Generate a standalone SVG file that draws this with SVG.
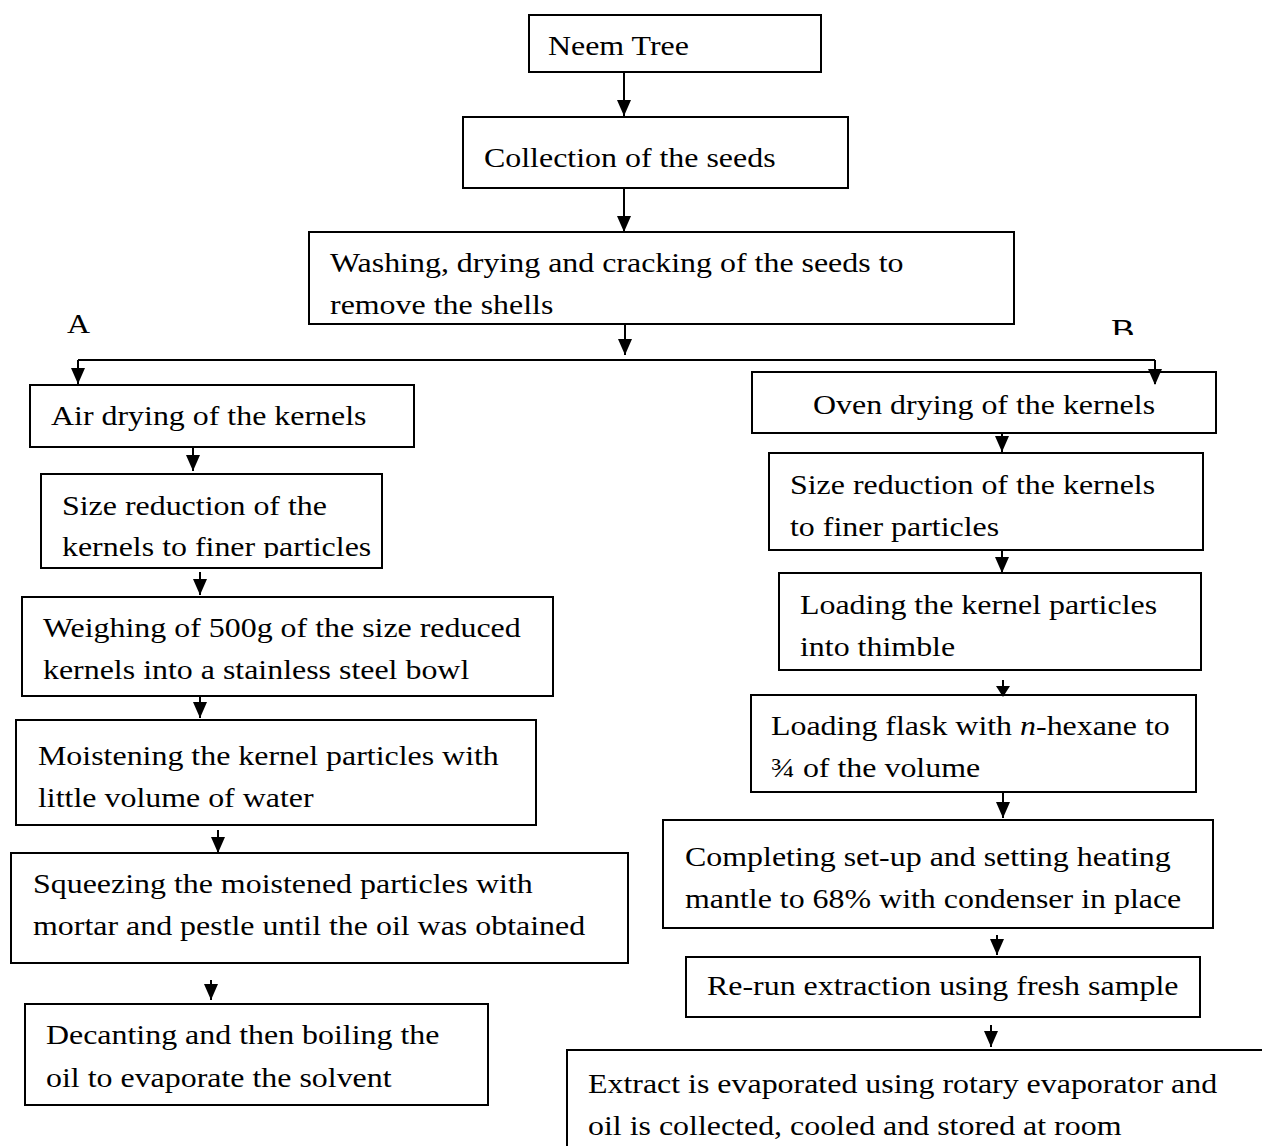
<svg xmlns="http://www.w3.org/2000/svg" width="1262" height="1146" viewBox="0 0 1262 1146">
<style>
.box{fill:#fff;stroke:#000;stroke-width:2}
.t{font-family:"Liberation Serif","Times New Roman",serif;font-size:28px;fill:#000}
.c{stroke:#000;stroke-width:2;fill:none}
</style>
<defs>
<clipPath id="clipSize"><rect x="0" y="0" width="1262" height="558"/></clipPath>
<clipPath id="clipB"><rect x="0" y="0" width="1262" height="335"/></clipPath>
</defs>
<rect width="1262" height="1146" fill="#fff"/>

<g id="labelA"><text class="t" transform="translate(67 333) scale(1.14 1)">A</text></g>
<g id="labelB" clip-path="url(#clipB)"><text class="t" style="font-size:31px" transform="translate(1111 341) scale(1.14 1)">B</text></g>

<g id="n1"><rect class="box" x="529" y="15" width="292" height="57"/>
<text class="t" transform="translate(548 55) scale(1.14 1)">Neem Tree</text></g>
<g id="n2"><rect class="box" x="463" y="117" width="385" height="71"/>
<text class="t" transform="translate(484 167) scale(1.14 1)">Collection of the seeds</text></g>
<g id="n3"><rect class="box" x="309" y="232" width="705" height="92"/>
<text class="t" transform="translate(330 272) scale(1.14 1)"><tspan x="0" y="0">Washing, drying and cracking of the seeds to</tspan><tspan x="0" y="42">remove the shells</tspan></text></g>

<g id="a1"><rect class="box" x="30" y="385" width="384" height="62"/>
<text class="t" transform="translate(51 425) scale(1.14 1)">Air drying of the kernels</text></g>
<g id="a2"><rect class="box" x="41" y="474" width="341" height="94"/>
<g clip-path="url(#clipSize)"><text class="t" transform="translate(62 515) scale(1.14 1)"><tspan x="0" y="0">Size reduction of the</tspan><tspan x="0" y="41">kernels to finer particles</tspan></text></g></g>
<g id="a3"><rect class="box" x="22" y="597" width="531" height="99"/>
<text class="t" transform="translate(43 637) scale(1.14 1)"><tspan x="0" y="0">Weighing of 500g of the size reduced</tspan><tspan x="0" y="42">kernels into a stainless steel bowl</tspan></text></g>
<g id="a4"><rect class="box" x="16" y="720" width="520" height="105"/>
<text class="t" transform="translate(38 765) scale(1.14 1)"><tspan x="0" y="0">Moistening the kernel particles with</tspan><tspan x="0" y="42">little volume of water</tspan></text></g>
<g id="a5"><rect class="box" x="11" y="853" width="617" height="110"/>
<text class="t" transform="translate(33 893) scale(1.14 1)"><tspan x="0" y="0">Squeezing the moistened particles with</tspan><tspan x="0" y="42">mortar and pestle until the oil was obtained</tspan></text></g>
<g id="a6"><rect class="box" x="25" y="1004" width="463" height="101"/>
<text class="t" transform="translate(46 1044) scale(1.14 1)"><tspan x="0" y="0">Decanting and then boiling the</tspan><tspan x="0" y="43">oil to evaporate the solvent</tspan></text></g>

<g id="b1"><rect class="box" x="752" y="372" width="464" height="61"/>
<text class="t" transform="translate(813 414) scale(1.14 1)">Oven drying of the kernels</text></g>
<g id="b2"><rect class="box" x="769" y="453" width="434" height="97"/>
<text class="t" transform="translate(790 494) scale(1.14 1)"><tspan x="0" y="0">Size reduction of the kernels</tspan><tspan x="0" y="42">to finer particles</tspan></text></g>
<g id="b3"><rect class="box" x="779" y="573" width="422" height="97"/>
<text class="t" transform="translate(800 614) scale(1.14 1)"><tspan x="0" y="0">Loading the kernel particles</tspan><tspan x="0" y="42">into thimble</tspan></text></g>
<g id="b4"><rect class="box" x="751" y="695" width="445" height="97"/>
<text class="t" transform="translate(771 735) scale(1.14 1)"><tspan x="0" y="0">Loading flask with <tspan font-style="italic">n</tspan>-hexane to</tspan><tspan x="0" y="42">¾ of the volume</tspan></text></g>
<g id="b5"><rect class="box" x="663" y="820" width="550" height="108"/>
<text class="t" transform="translate(685 866) scale(1.14 1)"><tspan x="0" y="0">Completing set-up and setting heating</tspan><tspan x="0" y="42">mantle to 68% with condenser in place</tspan></text></g>
<g id="b6"><rect class="box" x="686" y="957" width="514" height="60"/>
<text class="t" transform="translate(707 995) scale(1.14 1)">Re-run extraction using fresh sample</text></g>
<g id="b7"><rect class="box" x="567" y="1050" width="710" height="120"/>
<text class="t" transform="translate(588 1093) scale(1.14 1)"><tspan x="0" y="0">Extract is evaporated using rotary evaporator and</tspan><tspan x="0" y="42">oil is collected, cooled and stored at room</tspan></text></g>

<g id="connectors">
<path class="c" d="M624,72 V116"/>
<path class="c" d="M624,188 V232"/>
<path class="c" d="M625,324 V355"/>
<path class="c" d="M78,360 H1155"/>
<path class="c" d="M78,360 V384"/>
<path class="c" d="M1155,360 V384"/>
<path class="c" d="M193,447 V471"/>
<path class="c" d="M200,572 V595"/>
<path class="c" d="M200,696 V718"/>
<path class="c" d="M218,830 V853"/>
<path class="c" d="M211,980 V1000"/>
<path class="c" d="M1002,433 V452"/>
<path class="c" d="M1002,550 V573"/>
<path class="c" d="M1003,680 V695"/>
<path class="c" d="M1003,792 V818"/>
<path class="c" d="M997,935 V955"/>
<path class="c" d="M991,1025 V1047"/>
<path d="M617,100 H631 L624,116 Z"/>
<path d="M617,216 H631 L624,232 Z"/>
<path d="M618,339 H632 L625,355 Z"/>
<path d="M71,368 H85 L78,384 Z"/>
<path d="M1148,369 H1162 L1155,385 Z"/>
<path d="M186,455 H200 L193,471 Z"/>
<path d="M193,579 H207 L200,595 Z"/>
<path d="M193,702 H207 L200,718 Z"/>
<path d="M211,837 H225 L218,853 Z"/>
<path d="M204,984 H218 L211,1000 Z"/>
<path d="M995,436 H1009 L1002,452 Z"/>
<path d="M995,557 H1009 L1002,573 Z"/>
<path d="M996,686 H1010 L1003,697 Z"/>
<path d="M996,802 H1010 L1003,818 Z"/>
<path d="M990,939 H1004 L997,955 Z"/>
<path d="M984,1031 H998 L991,1047 Z"/>
</g>
</svg>
